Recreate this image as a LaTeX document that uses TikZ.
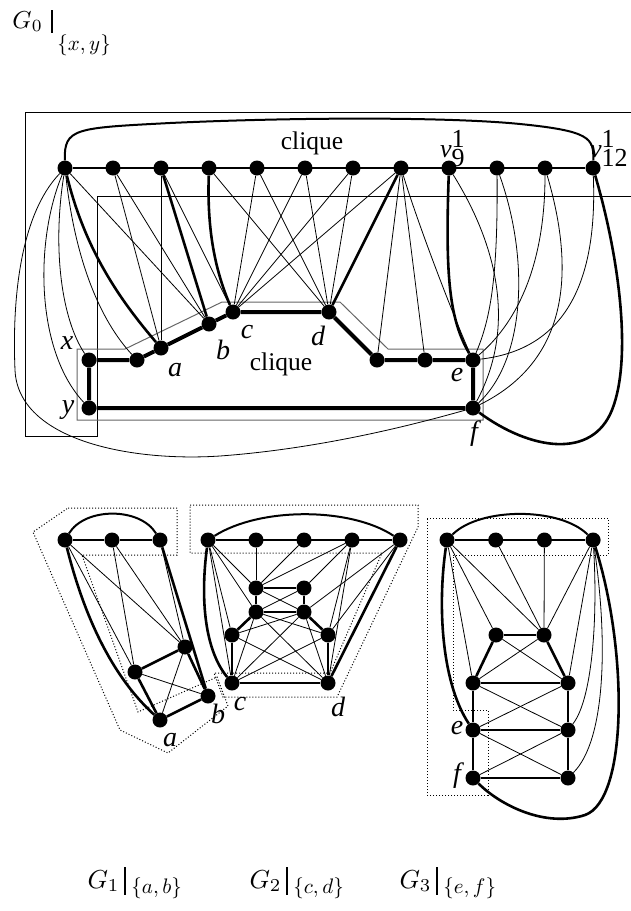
\documentclass[tikz,border=0pt]{standalone}
\usepackage{fontspec}
\setmainfont{Liberation Serif}
\begin{document}
\begin{tikzpicture}[x=1pt,y=-1pt,
  vtx/.style={circle,fill=black,inner sep=0pt,minimum size=15pt},
  ln/.style={line width=0.8pt},
  thk/.style={line width=2.6pt},
  cyc/.style={line width=4pt},
  rowline/.style={line width=2.4pt},
  arc/.style={line width=2pt},
  lbl/.style={font=\fontsize{28}{30}\selectfont\itshape,inner sep=0pt},
  cliq/.style={font=\fontsize{25.5}{27}\selectfont,inner sep=0pt},
  ttl/.style={inner sep=0pt,anchor=base west},
  sub/.style={inner sep=0pt,anchor=west},
  bar/.style={line width=1.2pt},
  dotbox/.style={dotted,line width=1pt},
  graybox/.style={draw=black!60,line width=1pt}]
\useasboundingbox (0,0) rectangle (631,911);

% ---------------- G0 ----------------
\node[ttl,scale=2.45] (title0) at (12,28) {$G_0$};
\draw[bar] (52,10) -- (52,33);
\node[sub,scale=2.1] (sub0) at (57,45) {$\{x,y\}$};

\draw[ln] (631,112) -- (25,112) -- (25,436) -- (97,436) -- (97,196) -- (631,196);
\draw[graybox] (77,349) -- (125,349) -- (222,302) -- (340,302) -- (388,349) -- (483,349) -- (483,420) -- (77,420) -- cycle;

\foreach \i in {1,...,12} \node[vtx] (t\i) at ({65+48*(\i-1)},168) {};
\node[vtx] (x) at (89,360) {};
\node[vtx] (y) at (89,408) {};
\node[vtx] (p) at (137,360) {};
\node[vtx] (a) at (161,348) {};
\node[vtx] (b) at (209,324) {};
\node[vtx] (c) at (233,312) {};
\node[vtx] (d) at (329,312) {};
\node[vtx] (q1) at (377,360) {};
\node[vtx] (q2) at (425,360) {};
\node[vtx] (e) at (473,360) {};
\node[vtx] (f) at (473,408) {};

\draw[rowline] (t1) -- (t12);
\draw[arc] (t1) .. controls (64,128) and (75,128) .. (170,123) .. controls (300,117) and (450,117) .. (520,124) .. controls (590,131) and (594,138) .. (t12);
\draw[cyc] (x) -- (p) -- (a) -- (b) -- (c) -- (d) -- (q1) -- (q2) -- (e) -- (f) -- (y) -- (x);

% straight thin edges
\foreach \u/\v in {t1/b,t2/a,t2/b,t3/a,t3/c,t4/d,t5/c,t5/d,t6/c,t6/d,t7/c,t7/d,t8/c,t8/q1,t8/q2}
  \draw[ln] (\u) -- (\v);
\draw[thk] (t3) -- (b);
\draw[thk] (t8) -- (d);
% curved edges
\draw[ln] (t1) .. controls (20,215) and (12,300) .. (15,370) .. controls (18,440) and (130,462) .. (220,456) .. controls (330,448) and (430,420) .. (f);
\draw[ln] (t1) .. controls (35,240) and (35,350) .. (y);
\draw[ln] (t1) .. controls (52,250) and (62,320) .. (x);
\draw[ln] (t1) .. controls (75,260) and (100,320) .. (p);
\draw[thk] (t1) .. controls (85,250) and (120,300) .. (a);
\draw[thk] (t4) .. controls (207,230) and (215,270) .. (c);
\draw[ln] (t8) .. controls (420,230) and (455,320) .. (e);
\draw[thk] (t9) .. controls (445,280) and (450,320) .. (e);
\draw[ln] (t9) .. controls (500,250) and (515,330) .. (f);
\draw[ln] (t10) .. controls (498,280) and (490,320) .. (e);
\draw[ln] (t10) .. controls (530,260) and (525,360) .. (f);
\draw[ln] (t11) .. controls (545,260) and (520,320) .. (e);
\draw[ln] (t11) .. controls (575,270) and (570,360) .. (f);
\draw[ln] (t12) .. controls (598,290) and (560,350) .. (e);
\draw[thk] (t12) .. controls (620,260) and (632,360) .. (612,410) .. controls (592,460) and (530,450) .. (f);

\node[cliq] (cl1) at (312,143) {clique};
\node[cliq] (cl2) at (281,364) {clique};
\node[font=\fontsize{26}{28}\selectfont,inner sep=0pt,anchor=base west] (v9) at (440,157) {\textit{v}$^{\textrm{1}}_{\textrm{9}}$};
\node[font=\fontsize{26}{28}\selectfont,inner sep=0pt,anchor=base west] (v12) at (590,157) {\textit{v}$^{\textrm{1}}_{\textrm{12}}$};
\node[lbl] (lx) at (67,343) {x};
\node[lbl] (ly) at (68,410) {y};
\node[lbl] (la) at (175,370) {a};
\node[lbl] (lb) at (223,350) {b};
\node[lbl] (lc) at (247,332) {c};
\node[lbl] (ld) at (318,336) {d};
\node[lbl] (le) at (457,375) {e};
\node[lbl] (lf) at (474,434) {f};

% ---------------- G1 ----------------
\draw[dotbox] (68,508) -- (177,508) -- (177,555) -- (82,555) -- (138,712) -- (217,677) -- (228,706) -- (168,753) -- (120,730) -- (33,532) -- cycle;
\node[vtx] (g1t1) at (65,540) {};
\node[vtx] (g1t2) at (112,540) {};
\node[vtx] (g1t3) at (160,540) {};
\node[vtx] (g1p) at (135,672) {};
\node[vtx] (g1q) at (185,647) {};
\node[vtx] (g1b) at (208,696) {};
\node[vtx] (g1a) at (160,720) {};
\draw[rowline] (g1t1) -- (g1t2) -- (g1t3);
\draw[arc] (g1t1) .. controls (85,507) and (140,507) .. (g1t3);
\draw[thk] (g1p) -- (g1q) -- (g1b) -- (g1a) -- (g1p);
\foreach \u/\v in {g1p/g1b,g1q/g1a,g1t1/g1p,g1t1/g1q,g1t2/g1p,g1t2/g1q,g1t3/g1q}
  \draw[ln] (\u) -- (\v);
\draw[thk] (g1t3) -- (g1b);
\draw[thk] (g1t1) .. controls (80,600) and (105,670) .. (g1a);
\node[lbl] (l1a) at (170,740) {a};
\node[lbl] (l1b) at (218,714) {b};

% ---------------- G2 ----------------
\draw[dotbox] (190,505) -- (418,505) -- (418,527) -- (337,697) -- (223,697) -- (214,673) -- (330,673) -- (382,553) -- (190,553) -- cycle;
\foreach \i in {1,...,5} \node[vtx] (g2t\i) at ({208+48*(\i-1)},540) {};
\node[vtx] (r1) at (256,588) {};
\node[vtx] (r2) at (304,588) {};
\node[vtx] (r3) at (256,612) {};
\node[vtx] (r4) at (304,612) {};
\node[vtx] (h1) at (232,635) {};
\node[vtx] (h2) at (328,635) {};
\node[vtx] (c2) at (232,683) {};
\node[vtx] (d2) at (328,683) {};
\draw[rowline] (g2t1) -- (g2t5);
\draw[arc] (g2t1) .. controls (260,507) and (350,507) .. (g2t5);
\foreach \u/\v in {r1/r2,r3/r4,r1/r3,r2/r4,r3/h1,r4/h2,h1/c2,h2/d2,c2/d2}
  \draw[thk] (\u) -- (\v);
\foreach \u/\v in {r1/r4,r2/r3,c2/r3,c2/r4,c2/h2,d2/r3,d2/r4,d2/h1,h1/r4,h2/r3,
   g2t1/r1,g2t1/r3,g2t1/h1,g2t1/c2,g2t2/r1,g2t3/r1,g2t4/r1,g2t4/r2,g2t4/h2,g2t4/d2,g2t5/h2,g2t5/r4}
  \draw[ln] (\u) -- (\v);
\draw[thk] (g2t5) -- (d2);
\draw[thk] (g2t1) .. controls (200,600) and (205,650) .. (c2);
\node[lbl] (l2c) at (240,704) {c};
\node[lbl] (l2d) at (338,707) {d};

% ---------------- G3 ----------------
\draw[dotbox] (427,518) -- (608,518) -- (608,555) -- (453,555) -- (453,710) -- (488,710) -- (488,795) -- (427,795) -- cycle;
\foreach \i in {1,...,4} \node[vtx] (s\i) at ({447+48.7*(\i-1)},540) {};
\node[vtx] (m1) at (496,635) {};
\node[vtx] (m2) at (544,635) {};
\node[vtx] (u1) at (473,683) {};
\node[vtx] (u2) at (568,683) {};
\node[vtx] (e3) at (473,730) {};
\node[vtx] (e3r) at (568,730) {};
\node[vtx] (f3) at (473,778) {};
\node[vtx] (f3r) at (568,778) {};
\draw[rowline] (s1) -- (s4);
\draw[arc] (s1) .. controls (480,507) and (560,507) .. (s4);
\foreach \u/\v in {m1/m2,m1/u1,m2/u2,u1/u2,u1/e3,u2/e3r,e3/e3r,e3/f3,e3r/f3r,f3/f3r}
  \draw[thk] (\u) -- (\v);
\foreach \u/\v in {m1/u2,m2/u1,u1/e3r,u2/e3,e3/f3r,e3r/f3,s1/m1,s1/m2,s1/u1,s2/m2,s3/m2,s4/m2,s4/u2}
  \draw[ln] (\u) -- (\v);
\draw[thk] (s1) .. controls (438,600) and (440,680) .. (e3);
\draw[ln] (s4) .. controls (598,620) and (592,700) .. (e3r);
\draw[ln] (s4) .. controls (608,640) and (606,740) .. (f3r);
\draw[thk] (s4) .. controls (628,650) and (628,800) .. (585,815) .. controls (545,828) and (500,805) .. (f3);
\node[lbl] (l3e) at (457,728) {e};
\node[lbl] (l3f) at (457,776) {f};

% ---------------- titles ----------------
\node[ttl,scale=2.6] (title1) at (87,888) {$G_1$};
\draw[bar] (125,867) -- (125,895);
\node[sub,scale=2.1] (sub1) at (131,888) {$\{a,b\}$};
\node[ttl,scale=2.6] (title2) at (249,888) {$G_2$};
\draw[bar] (287,867) -- (287,895);
\node[sub,scale=2.1] (sub2) at (293,888) {$\{c,d\}$};
\node[ttl,scale=2.6] (title3) at (399,888) {$G_3$};
\draw[bar] (437,867) -- (437,895);
\node[sub,scale=2.1] (sub3) at (443,888) {$\{e,f\}$};
\end{tikzpicture}
\end{document}
